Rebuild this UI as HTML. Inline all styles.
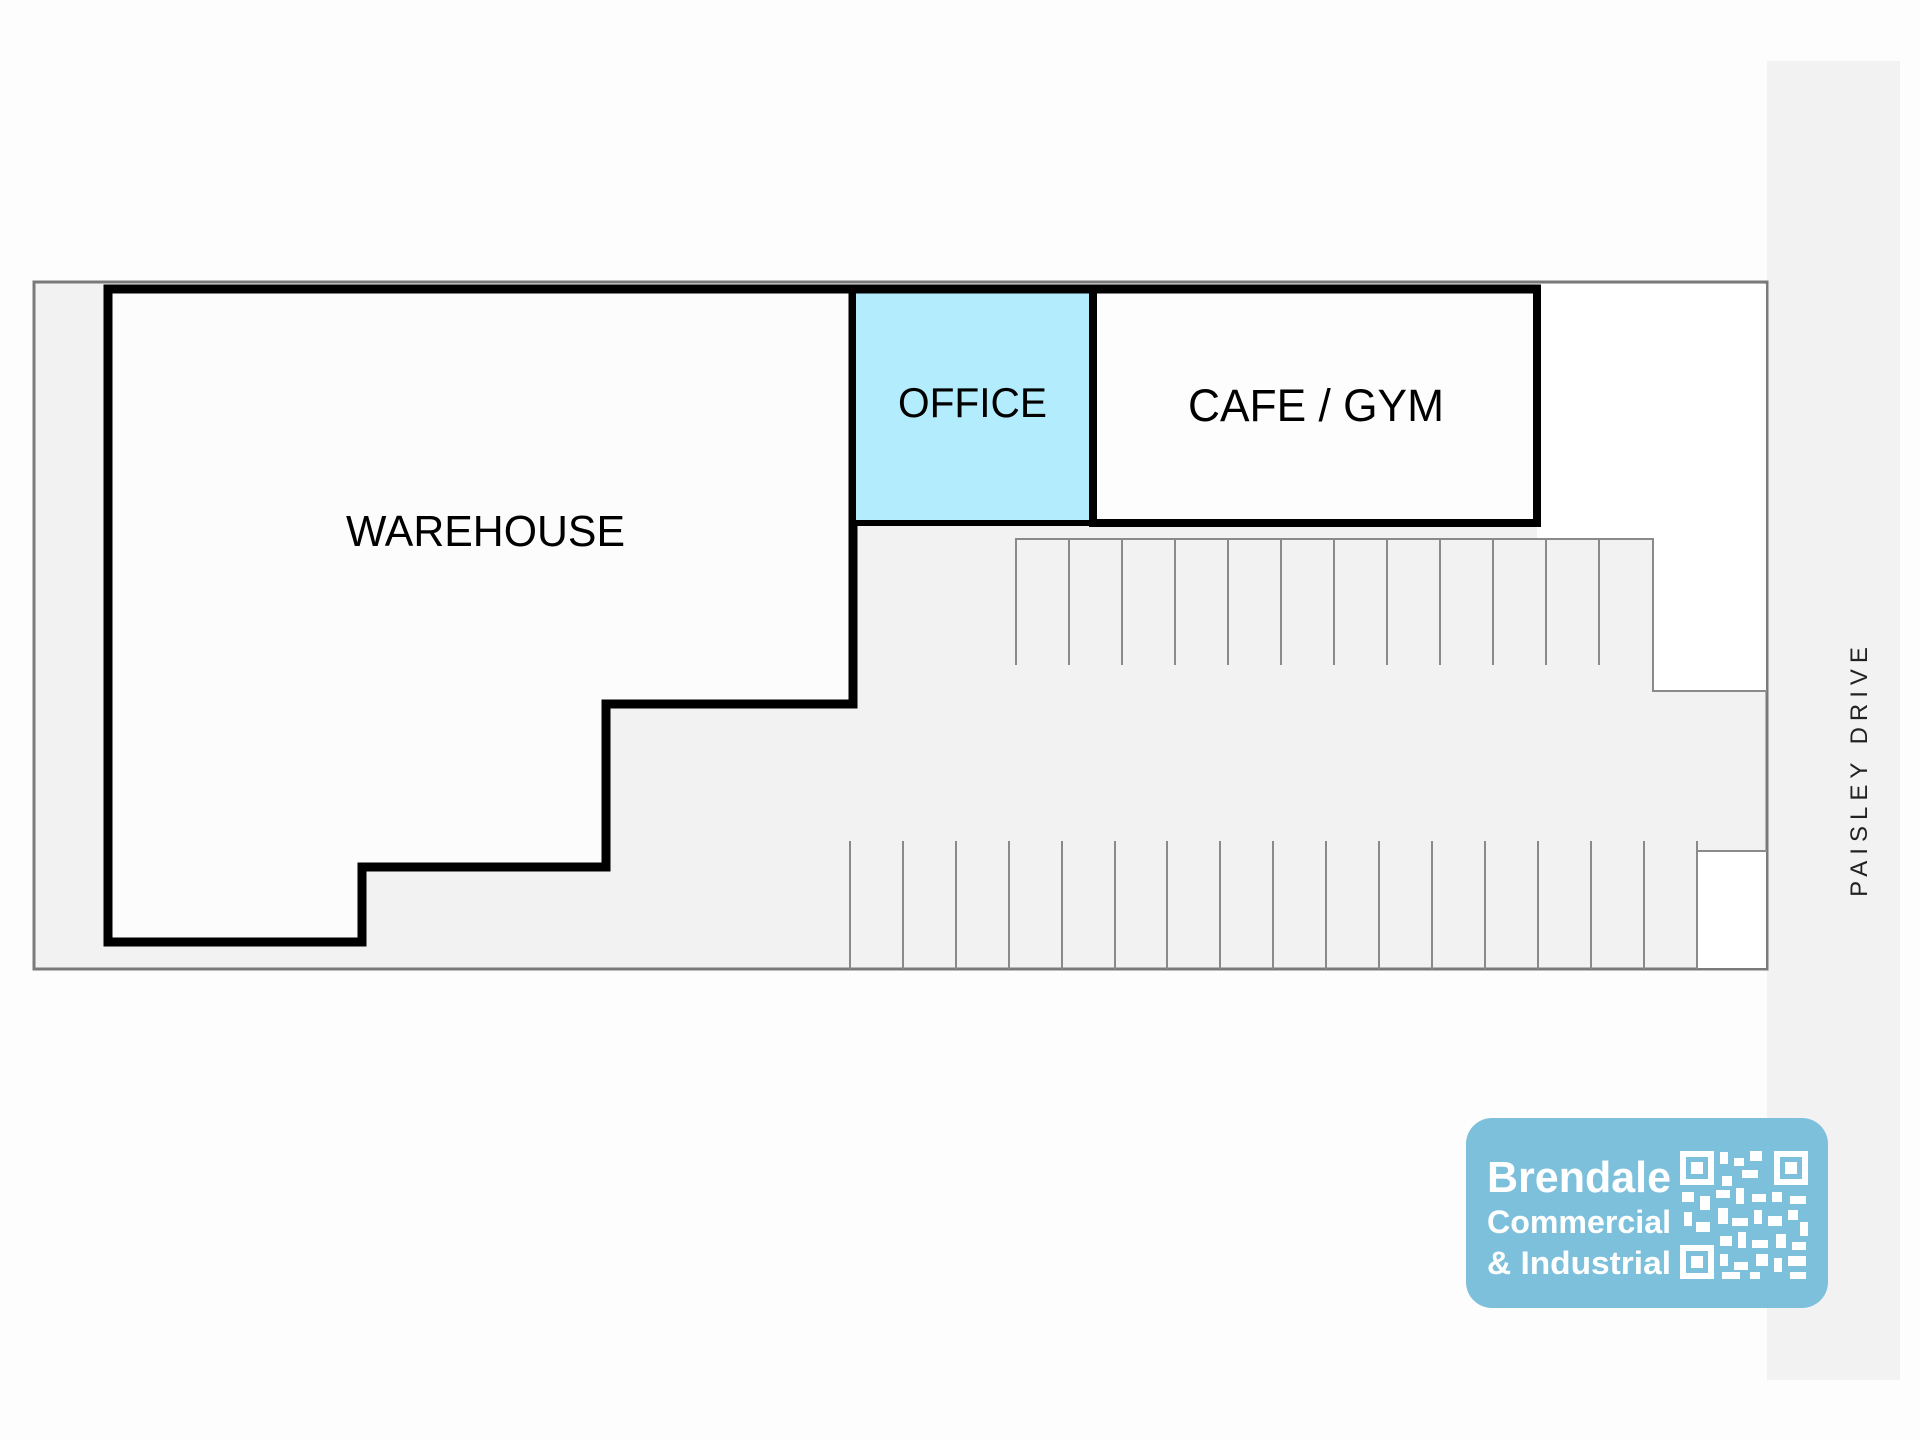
<!DOCTYPE html>
<html><head><meta charset="utf-8"><style>
html,body{margin:0;padding:0;background:#fdfdfd;}
body{width:1920px;height:1440px;position:relative;overflow:hidden;font-family:"Liberation Sans",sans-serif;}
</style></head><body>
<svg width="1920" height="1440" viewBox="0 0 1920 1440" style="position:absolute;left:0;top:0">
<rect x="0" y="0" width="1920" height="1440" fill="#fdfdfd"/>
<rect x="1767" y="61" width="133" height="1319" fill="#f2f2f2"/>
<rect x="34" y="282" width="1733" height="687" fill="#f2f2f2" stroke="#7a7a7a" stroke-width="3"/>
<rect x="1537" y="284" width="229" height="255" fill="#ffffff"/>
<rect x="1653" y="539" width="113" height="152" fill="#ffffff"/>
<rect x="1698" y="851" width="68" height="117" fill="#ffffff"/>
<g stroke="#8a8a8a" stroke-width="2" fill="none">
<polyline points="1016,665 1016,539 1653,539 1653,691 1767,691"/>
<line x1="1069" y1="539" x2="1069" y2="665"/><line x1="1122" y1="539" x2="1122" y2="665"/>
<line x1="1175" y1="539" x2="1175" y2="665"/><line x1="1228" y1="539" x2="1228" y2="665"/>
<line x1="1281" y1="539" x2="1281" y2="665"/><line x1="1334" y1="539" x2="1334" y2="665"/>
<line x1="1387" y1="539" x2="1387" y2="665"/><line x1="1440" y1="539" x2="1440" y2="665"/>
<line x1="1493" y1="539" x2="1493" y2="665"/><line x1="1546" y1="539" x2="1546" y2="665"/>
<line x1="1599" y1="539" x2="1599" y2="665"/>
<line x1="850" y1="841" x2="850" y2="969"/><line x1="903" y1="841" x2="903" y2="969"/>
<line x1="956" y1="841" x2="956" y2="969"/><line x1="1009" y1="841" x2="1009" y2="969"/>
<line x1="1062" y1="841" x2="1062" y2="969"/><line x1="1115" y1="841" x2="1115" y2="969"/>
<line x1="1167" y1="841" x2="1167" y2="969"/><line x1="1220" y1="841" x2="1220" y2="969"/>
<line x1="1273" y1="841" x2="1273" y2="969"/><line x1="1326" y1="841" x2="1326" y2="969"/>
<line x1="1379" y1="841" x2="1379" y2="969"/><line x1="1432" y1="841" x2="1432" y2="969"/>
<line x1="1485" y1="841" x2="1485" y2="969"/><line x1="1538" y1="841" x2="1538" y2="969"/>
<line x1="1591" y1="841" x2="1591" y2="969"/><line x1="1644" y1="841" x2="1644" y2="969"/>
<line x1="1697" y1="841" x2="1697" y2="969"/>
<line x1="1697" y1="851" x2="1767" y2="851"/>
</g>
<polygon points="108,289 853,289 853,704 606,704 606,867 362,867 362,942 108,942" fill="#fcfcfd" stroke="#000" stroke-width="9"/>
<rect x="853" y="289" width="240" height="234" fill="#b3ecfc" stroke="#000" stroke-width="6"/>
<rect x="1093" y="289" width="444" height="234" fill="#fdfdfd" stroke="#000" stroke-width="8"/>
<line x1="104" y1="289" x2="1541" y2="289" stroke="#000" stroke-width="9"/>
<text x="346" y="546" font-size="44" textLength="279" lengthAdjust="spacingAndGlyphs" fill="#000">WAREHOUSE</text>
<text x="898" y="417" font-size="42" textLength="149" lengthAdjust="spacingAndGlyphs" fill="#000">OFFICE</text>
<text x="1188" y="421" font-size="45" textLength="256" lengthAdjust="spacingAndGlyphs" fill="#000">CAFE / GYM</text>
<text transform="translate(1867,769) rotate(-90)" font-size="24" text-anchor="middle" letter-spacing="6" fill="#222">PAISLEY DRIVE</text>
<rect x="1466" y="1118" width="362" height="190" rx="26" fill="#7dc0dc"/>
<text x="1487" y="1192" font-size="44" font-weight="bold" textLength="184" lengthAdjust="spacingAndGlyphs" fill="#fff">Brendale</text>
<text x="1487" y="1233" font-size="32" font-weight="bold" textLength="184" lengthAdjust="spacingAndGlyphs" fill="#fff">Commercial</text>
<text x="1487" y="1274" font-size="32" font-weight="bold" textLength="184" lengthAdjust="spacingAndGlyphs" fill="#fff">&amp; Industrial</text>
<g fill="#fff">
<rect x="1680" y="1151" width="34" height="34"/><rect x="1686" y="1157" width="22" height="22" fill="#7dc0dc"/><rect x="1691" y="1162" width="12" height="12"/>
<rect x="1774" y="1151" width="34" height="34"/><rect x="1780" y="1157" width="22" height="22" fill="#7dc0dc"/><rect x="1785" y="1162" width="12" height="12"/>
<rect x="1680" y="1245" width="34" height="34"/><rect x="1686" y="1251" width="22" height="22" fill="#7dc0dc"/><rect x="1691" y="1256" width="12" height="12"/>
<rect x="1720" y="1152" width="8" height="12"/><rect x="1734" y="1158" width="10" height="8"/><rect x="1750" y="1151" width="12" height="10"/><rect x="1742" y="1170" width="16" height="8"/><rect x="1722" y="1176" width="10" height="10"/>
<rect x="1682" y="1192" width="12" height="10"/><rect x="1700" y="1196" width="10" height="14"/><rect x="1716" y="1190" width="14" height="8"/><rect x="1736" y="1188" width="8" height="16"/><rect x="1752" y="1194" width="14" height="8"/><rect x="1772" y="1192" width="10" height="10"/><rect x="1790" y="1196" width="16" height="8"/>
<rect x="1684" y="1212" width="8" height="14"/><rect x="1696" y="1222" width="14" height="10"/><rect x="1718" y="1208" width="10" height="16"/><rect x="1732" y="1218" width="16" height="8"/><rect x="1754" y="1210" width="8" height="14"/><rect x="1768" y="1216" width="14" height="10"/><rect x="1788" y="1210" width="10" height="10"/><rect x="1800" y="1222" width="8" height="14"/>
<rect x="1720" y="1236" width="12" height="10"/><rect x="1738" y="1232" width="8" height="16"/><rect x="1752" y="1240" width="16" height="8"/><rect x="1776" y="1234" width="10" height="14"/><rect x="1792" y="1242" width="14" height="8"/>
<rect x="1720" y="1254" width="8" height="12"/><rect x="1734" y="1262" width="14" height="8"/><rect x="1756" y="1254" width="12" height="12"/><rect x="1774" y="1258" width="8" height="14"/><rect x="1788" y="1256" width="18" height="10"/><rect x="1722" y="1272" width="18" height="7"/><rect x="1750" y="1272" width="10" height="7"/><rect x="1790" y="1272" width="16" height="7"/>
</g>
</svg>
</body></html>
